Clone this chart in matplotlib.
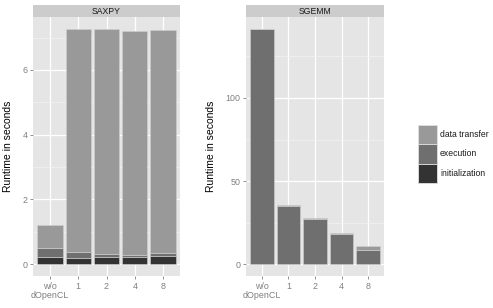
import numpy as np
from matplotlib import pyplot as plt
from matplotlib.patches import Rectangle


CATEGORIES = ["w/o\ndOpenCL", "1", "2", "4", "8"]
PHASES = ["initialization", "execution", "data transfer"]
COLORS = {"initialization": "#333333", "execution": "#6f6f6f", "data transfer": "#999999"}

# runtimes in seconds (stacked: initialization, execution, data transfer)
SAXPY_INIT = [0.22, 0.20, 0.23, 0.22, 0.25]
SAXPY_EXEC = [0.28, 0.18, 0.09, 0.06, 0.09]
SAXPY_TRANSFER = [0.71, 6.87, 6.95, 6.91, 6.89]

SGEMM_INIT = [0.2, 0.2, 0.2, 0.2, 0.2]
SGEMM_EXEC = [141.4, 34.8, 26.8, 17.7, 8.4]
SGEMM_TRANSFER = [0.0, 0.7, 0.7, 0.6, 2.4]

SAXPY_TICKS = [0, 2, 4, 6]
SGEMM_TICKS = [0, 50, 100]

W, H = 493, 308

plt.rcParams["font.family"] = ["Liberation Sans", "DejaVu Sans"]


def draw_panel(fig, rect, title, layers, ticks):
    left, bottom, width, height = rect
    ax = fig.add_axes([left / W, 1 - (bottom) / H, width / W, height / H])
    ax.set_facecolor("#e5e5e5")
    x = np.arange(1, len(CATEGORIES) + 1)
    base = np.zeros(len(CATEGORIES))
    for name, vals in zip(PHASES, layers):
        vals = np.array(vals)
        ax.bar(x, vals, width=0.9, bottom=base, color=COLORS[name],
               edgecolor="#d0d0d0", linewidth=0.4, zorder=3)
        base = base + vals
    top = base.max()
    ax.set_ylim(-0.05 * top, top * 1.05)
    ax.set_xlim(0.4, len(CATEGORIES) + 0.6)
    ax.set_xticks(x)
    ax.set_xticklabels(CATEGORIES, fontsize=6.4, color="#7f7f7f", linespacing=1.05)
    ax.set_yticks(ticks)
    ax.set_yticklabels([str(t) for t in ticks], fontsize=6.4, color="#7f7f7f")
    step = ticks[1] - ticks[0]
    minor = np.arange(ticks[0] + step / 2, top * 1.05, step)
    ax.set_yticks(minor, minor=True)
    ax.grid(True, which="major", color="white", linewidth=0.9, zorder=0)
    ax.grid(True, which="minor", axis="y", color="#f2f2f2", linewidth=0.5, zorder=0)
    ax.tick_params(which="major", length=2.5, width=0.6, color="#7f7f7f", pad=1.5)
    ax.tick_params(which="minor", length=0)
    for s in ax.spines.values():
        s.set_visible(False)
    ax.set_ylabel("Runtime in seconds", fontsize=7.5, labelpad=7)
    # facet strip
    strip = fig.add_axes([left / W, 1 - (bottom - height) / H, width / W, 12 / H])
    strip.set_facecolor("#cccccc")
    strip.set_xticks([])
    strip.set_yticks([])
    for s in strip.spines.values():
        s.set_visible(False)
    strip.text(0.5, 0.5, title, ha="center", va="center", fontsize=6.2,
               color="#1a1a1a", transform=strip.transAxes)
    return ax


def main():
    fig = plt.figure(figsize=(W / 100, H / 100), dpi=100)
    draw_panel(fig, (33, 276, 147, 259), "SAXPY",
               [SAXPY_INIT, SAXPY_EXEC, SAXPY_TRANSFER], SAXPY_TICKS)
    draw_panel(fig, (246, 276, 138, 259), "SGEMM",
               [SGEMM_INIT, SGEMM_EXEC, SGEMM_TRANSFER], SGEMM_TICKS)

    # legend
    kx, ky, kw, kh = 418, 125, 19, 19.3
    for i, name in enumerate(["data transfer", "execution", "initialization"]):
        y0 = ky + i * kh
        fig.patches.append(Rectangle((kx / W, 1 - (y0 + kh) / H), kw / W, kh / H,
                                     transform=fig.transFigure, facecolor=COLORS[name],
                                     edgecolor="#e0e0e0", linewidth=0.6))
        fig.text((kx + kw + 3) / W, 1 - (y0 + kh / 2) / H, name, fontsize=6.2,
                 va="center", ha="left", color="#1a1a1a")

    fig.savefig("out.png", dpi=100)


if __name__ == "__main__":
    main()
